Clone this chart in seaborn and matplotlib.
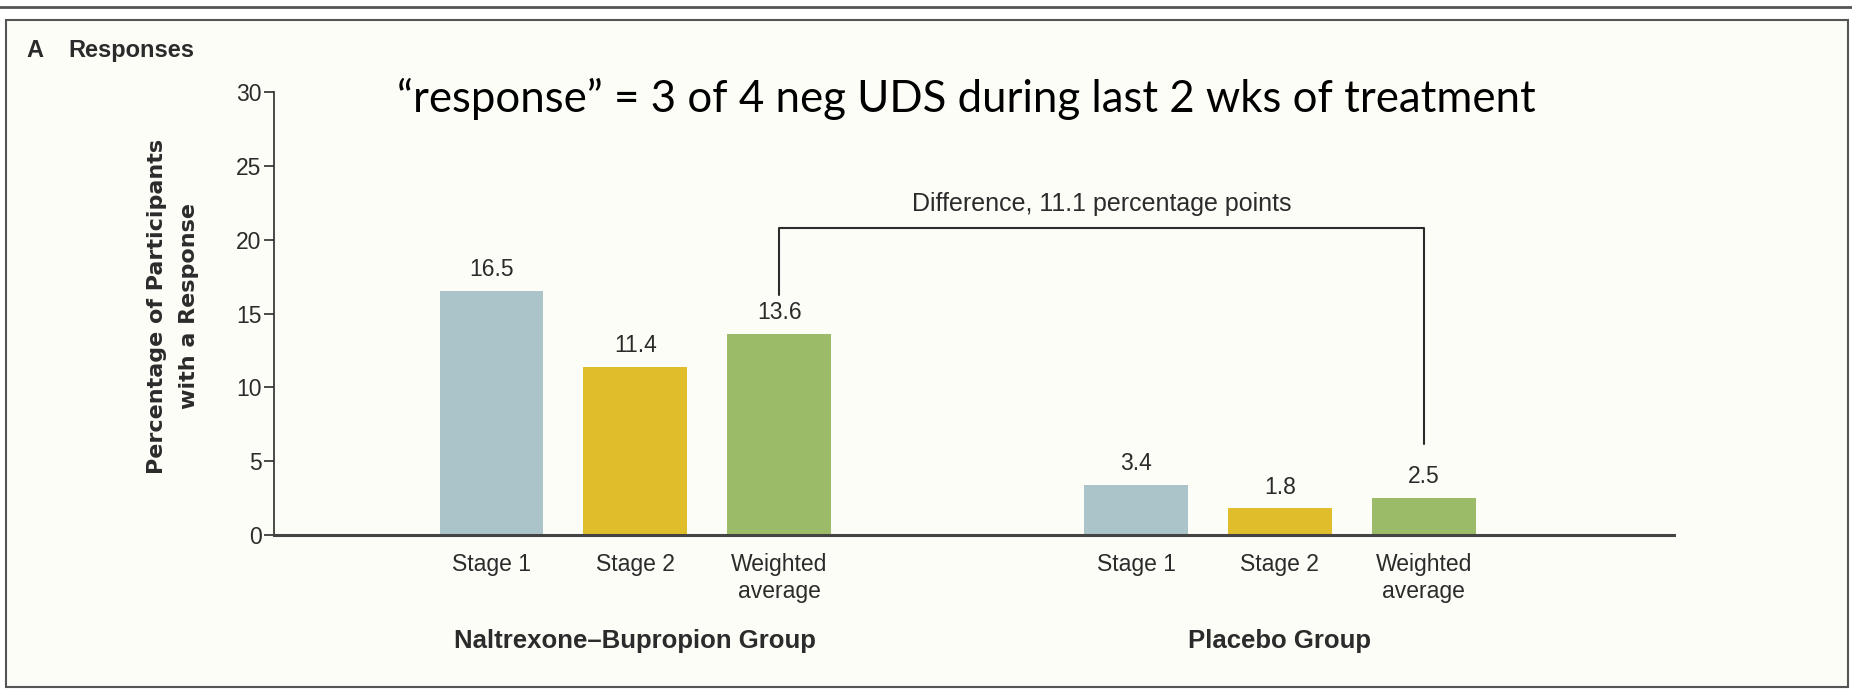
import matplotlib.pyplot as plt
import matplotlib.patches as mpatches
import matplotlib.lines as mlines
import matplotlib.transforms as mtransforms
import pandas as pd
import seaborn as sns

# Datos del gráfico
groups = ['Naltrexone–Bupropion Group', 'Placebo Group']
stages = ['Stage 1', 'Stage 2', 'Weighted\naverage']
naltrexone = [16.5, 11.4, 13.6]
placebo = [3.4, 1.8, 2.5]
colors = ['#abc4c9', '#dfbd2b', '#9bbb69']

# Construir la tabla (posición numérica para separar los grupos)
group_gap = 4.48
rows = []
for g, vals in enumerate([naltrexone, placebo]):
    for i, (s, v) in enumerate(zip(stages, vals)):
        rows.append({'group': groups[g], 'stage': s, 'value': v,
                     'pos': g * group_gap + i})
df = pd.DataFrame(rows)

sns.set_style('white')
plt.rcParams['font.family'] = ['Liberation Sans', 'DejaVu Sans']
ink = '#2b2b2b'

fig = plt.figure(figsize=(18.52, 6.97), dpi=100)
fig.patch.set_facecolor('white')

# Marco del panel
frame = mpatches.Rectangle((6 / 1852, 10 / 697), 1842 / 1852, 667 / 697,
                           transform=fig.transFigure, facecolor='#fdfdf8',
                           edgecolor='#555555', lw=1.5, zorder=-10)
fig.patches.append(frame)
fig.add_artist(mlines.Line2D([0, 1], [1 - 7 / 697] * 2, transform=fig.transFigure,
                             color='#555555', lw=2))

ax = fig.add_axes([0.148, 0.2324, 0.756, 0.6356])
ax.set_facecolor('none')
ax.set_zorder(5)
sns.barplot(data=df, x='pos', y='value', hue='stage', hue_order=stages,
            palette=colors, native_scale=True, dodge=False, width=0.72,
            saturation=1, linewidth=0, legend=False, ax=ax)

# Valores encima de las barras
for _, r in df.iterrows():
    ax.text(r['pos'], r['value'] + 1.45, f"{r['value']}", ha='center', va='center',
            fontsize=16.5, color=ink)

ax.set_ylim(0, 30)
ax.set_xlim(-1.51, df['pos'].max() + 1.74)
ax.set_yticks(range(0, 31, 5))
ax.set_xticks(df['pos'])
ax.set_xticklabels(df['stage'], fontsize=16.5, color=ink)
ax.tick_params(axis='x', length=0, pad=13)
ax.tick_params(axis='y', length=7, width=1.2, color=ink, labelsize=16.5,
               labelcolor=ink, pad=2, left=True)
ax.set_xlabel('')
ax.set_ylabel('')
for side in ['top', 'right']:
    ax.spines[side].set_visible(False)
ax.spines['left'].set_color(ink)
ax.spines['left'].set_linewidth(1.2)
ax.spines['bottom'].set_color('#444444')
ax.spines['bottom'].set_linewidth(2.2)

# Corchete de diferencia
x_left = df['pos'].iloc[2]
x_right = df['pos'].iloc[5]
bracket_top = 20.8
ax.plot([x_left, x_left, x_right, x_right],
        [naltrexone[2] + 2.65, bracket_top, bracket_top, placebo[2] + 3.66],
        color=ink, lw=1.5, clip_on=False)
ax.text((x_left + x_right) / 2, bracket_top + 1.6, 'Difference, 11.1 percentage points',
        ha='center', va='center', fontsize=18, color=ink)

# Etiquetas de grupo
trans = mtransforms.blended_transform_factory(ax.transData, fig.transFigure)
for g, name in enumerate(groups):
    center = df.loc[df['group'] == name, 'pos'].mean()
    ax.text(center, 0.0803, name, transform=trans, ha='center', va='center',
            fontsize=18.5, fontweight='bold', color=ink)

# Textos de la figura
fig.text(173 / 1852, 0.561, 'Percentage of Participants\nwith a Response',
         rotation=90, ha='center', va='center', fontsize=16, fontweight='bold',
         family='DejaVu Sans', linespacing=1.7, color=ink)
fig.text(26 / 1852, 0.927, 'A', ha='left', va='center', fontsize=17,
         fontweight='bold', color=ink)
fig.text(68 / 1852, 0.927, 'Responses', ha='left', va='center', fontsize=17,
         fontweight='bold', color=ink)
fig.text(0.5216, 0.858, '“response” = 3 of 4 neg UDS during last 2 wks of treatment',
         ha='center', va='center', fontsize=31.5, family='Lato', color='black')

fig.savefig('out.png', dpi=100)
